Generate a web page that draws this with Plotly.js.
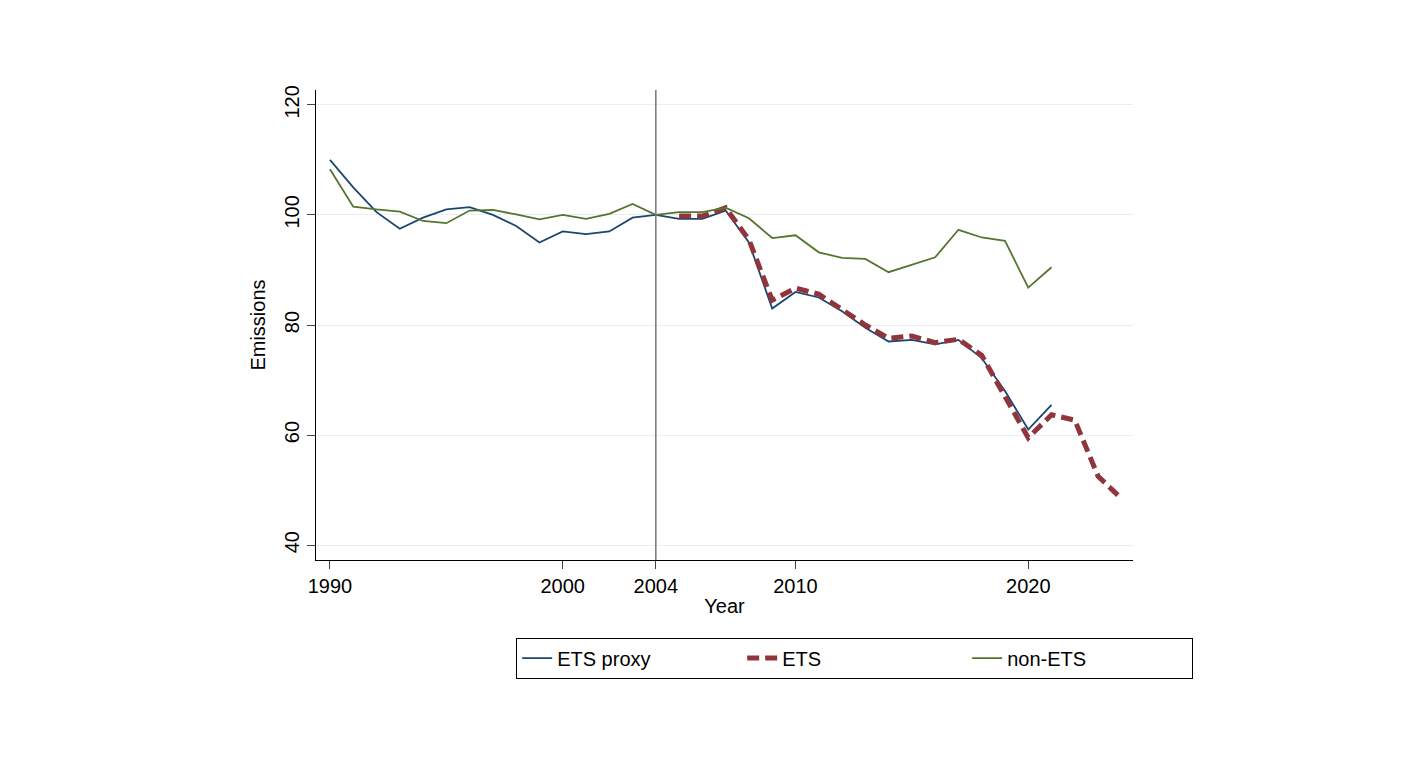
<!DOCTYPE html>
<html>
<head>
<script src="https://cdn.plot.ly/plotly-3.0.1.min.js"></script>
<style>body{margin:0;background:#fff}</style>
</head>
<body>
<div id="chart" style="width:1420px;height:758px"></div>
<script>
const yearsProxy = Array.from({ length: 32 }, (_, i) => 1990 + i);
const etsProxy = [110, 105, 100.5, 97.5, 99.5, 101, 101.4, 100, 98, 95, 97, 96.5, 97, 99.5, 100, 99.3, 99.3, 100.8, 95, 83, 86, 85, 82.5, 79.5, 77, 77.3, 76.5, 77.3, 74, 68, 61, 65.5];
const nonEts = [108.3, 101.5, 101, 100.6, 98.9, 98.5, 100.8, 100.9, 100.1, 99.2, 100, 99.3, 100.2, 102, 100, 100.5, 100.5, 101.3, 99.4, 95.8, 96.3, 93.2, 92.2, 92, 89.6, 91, 92.3, 97.3, 95.9, 95.3, 86.8, 90.5];
const yearsEts = Array.from({ length: 20 }, (_, i) => 2005 + i);
const ets = [99.8, 99.8, 101.3, 95.5, 84.5, 86.7, 85.6, 82.8, 80, 77.6, 78, 76.8, 77.4, 74.5, 67, 59.5, 63.7, 62.7, 52.5, 48.5];
const xTicks = [1990, 2000, 2004, 2010, 2020];
const yTicks = [40, 60, 80, 100, 120];

const traces = [
  { x: yearsProxy, y: etsProxy, name: 'ETS proxy', mode: 'lines', line: { color: '#1a476f', width: 1.8 } },
  { x: yearsEts, y: ets, name: 'ETS', mode: 'lines', line: { color: '#90353b', width: 5, dash: '12px,6px' } },
  { x: yearsProxy, y: nonEts, name: 'non-ETS', mode: 'lines', line: { color: '#55752f', width: 1.8 } },
];

const layout = {
  width: 1420, height: 758,
  margin: { l: 316, r: 287, t: 90, b: 198 },
  paper_bgcolor: '#fff', plot_bgcolor: '#fff',
  font: { family: 'Liberation Sans, Arial, sans-serif', size: 20, color: '#000' },
  showlegend: true,
  legend: {
    orientation: 'h', x: 0.245, xanchor: 'left', y: -0.165, yanchor: 'top',
    bordercolor: '#000', borderwidth: 1, font: { size: 20 },
    entrywidth: 180, traceorder: 'normal',
  },
  xaxis: {
    range: [1989.4, 2024.5], tickvals: xTicks, ticks: 'outside', ticklen: 8,
    showgrid: false, zeroline: false, showline: true, linecolor: '#000', linewidth: 1,
    title: { text: 'Year', standoff: 2, font: { size: 20 } },
  },
  yaxis: {
    range: [37.3, 122.7], tickvals: yTicks, ticks: 'outside', ticklen: 8, tickangle: -90,
    showgrid: true, gridcolor: '#eaeef2', zeroline: false, showline: true, linecolor: '#000', linewidth: 1,
    title: { text: 'Emissions', standoff: 10, font: { size: 20 } },
  },
  shapes: [{ type: 'line', xref: 'x', yref: 'paper', x0: 2004, x1: 2004, y0: 0, y1: 1, line: { color: '#777', width: 1.5 } }],
};

Plotly.newPlot('chart', traces, layout, { displayModeBar: false });
</script>
</body>
</html>
